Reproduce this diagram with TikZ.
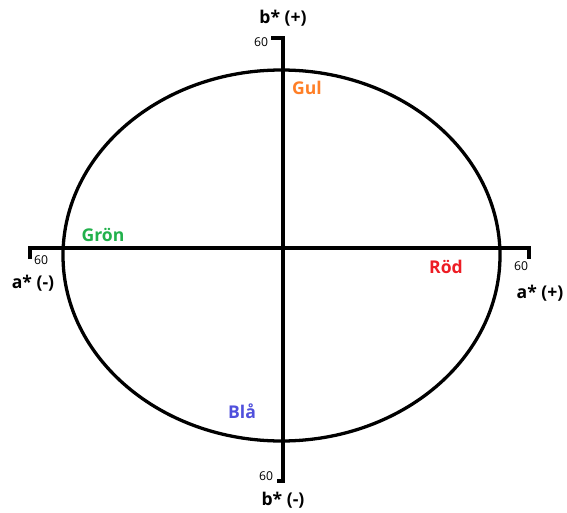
\documentclass[tikz,border=0pt]{standalone}
\usepackage{fontspec}
\setmainfont{Open Sans}
\definecolor{gulc}{RGB}{255,127,39}
\definecolor{gronc}{RGB}{34,177,76}
\definecolor{rodc}{RGB}{237,28,36}
\definecolor{blac}{RGB}{80,80,220}
\begin{document}
\begin{tikzpicture}[x=0.03cm, y=-0.03cm, every node/.style={font=\bfseries\fontsize{15}{16}\selectfont, inner sep=0pt},
    axlbl/.style={font=\fontsize{10.4}{11}\selectfont}]
  \useasboundingbox (0,0) rectangle (567,513);
  % axlar
  \coordinate (btop) at (283,38);
  \coordinate (bbot) at (283,481);
  \coordinate (aleft) at (30,248);
  \coordinate (aright) at (529,248);
  \draw[line width=3.2pt] (271,38) -- (btop) -- (bbot) -- (277,481);
  \draw[line width=3.2pt] (30,259) -- (aleft) -- (aright) -- (529,259);
  % cirkeln
  \draw[line width=2.8pt] (281.5,255.5) ellipse [x radius=218.5, y radius=185.5];
  % etiketter
  \node (bplus) at (283,18) {b* (+)};
  \node (bminus) at (283,500) {b* (-)};
  \node (aminus) at (33,283) {a* (-)};
  \node (aplus) at (540,293) {a* (+)};
  \node[axlbl] (n1) at (261,42) {60};
  \node[axlbl] (n2) at (41,260) {60};
  \node[axlbl] (n3) at (521,266) {60};
  \node[axlbl] (n4) at (266,476) {60};
  \node[text=gulc] (gul) at (307,88) {Gul};
  \node[text=gronc] (gron) at (103,235) {Grön};
  \node[text=rodc] (rod) at (446,267) {Röd};
  \node[text=blac] (bla) at (242,411) {Blå};
\end{tikzpicture}
\end{document}
